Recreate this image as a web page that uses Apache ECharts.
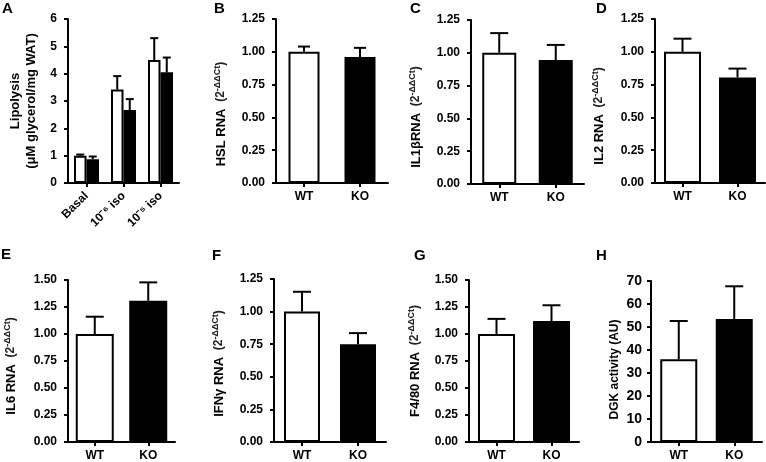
<!DOCTYPE html>
<html>
<head>
<meta charset="utf-8">
<script src="https://cdn.jsdelivr.net/npm/echarts@6/dist/echarts.min.js"></script>
<style>
html,body{margin:0;padding:0;background:#fff;}
#c{width:766px;height:462px;}
</style>
</head>
<body>
<div id="c"></div>
<script>
// ---- Data ----
const catsA = ['Basal', '10⁻⁶ iso', '10⁻⁵ iso'];
const wtA = [1.0, 3.42, 4.5];
const wtAerr = [0.04, 0.49, 0.8];
const koA = [0.87, 2.67, 4.05];
const koAerr = [0.1, 0.4, 0.54];

const catsWK = ['WT', 'KO'];
const hsl = [1.0, 0.96];      const hslErr = [0.04, 0.07];
const il1b = [1.0, 0.945];    const il1bErr = [0.15, 0.115];
const il2 = [1.0, 0.805];     const il2Err = [0.1, 0.067];
const il6 = [1.0, 1.308];     const il6Err = [0.16, 0.17];
const ifng = [1.0, 0.75];     const ifngErr = [0.152, 0.085];
const f480 = [1.0, 1.12];     const f480Err = [0.14, 0.146];
const dgk = [36, 53.5];       const dgkErr = [16.6, 14.2];

// ---- Layout / style ----
const FF = "'Liberation Sans', Arial, sans-serif";
const black = '#000';

const panels = [
  {id:'B', left:276, top:19, width:112, height:164, max:1.25, interval:0.25, dec:2, name:'{b|HSL RNA}  {p|(2}{s|-ΔΔCt}{p|)}', gap:47, pad:26, bw:31, cap:6, vals:hsl, errs:hslErr},
  {id:'C', left:471, top:20, width:113, height:164, max:1.25, interval:0.25, dec:2, name:'{b|IL1βRNA}  {p|(2}{s|-ΔΔCt}{p|)}', gap:47, pad:30, bw:34, cap:9, vals:il1b, errs:il1bErr},
  {id:'D', left:655, top:19, width:110, height:164, max:1.25, interval:0.25, dec:2, name:'{b|IL2 RNA}  {p|(2}{s|-ΔΔCt}{p|)}', gap:48, pad:30, bw:37, cap:9, vals:il2, errs:il2Err},
  {id:'E', left:68, top:280, width:107, height:162, max:1.5, interval:0.25, dec:2, name:'{b|IL6 RNA}  {p|(2}{s|-ΔΔCt}{p|)}', gap:49, pad:10, bw:38, cap:9, vals:il6, errs:il6Err},
  {id:'F', left:274, top:279, width:112, height:163, max:1.25, interval:0.25, dec:2, name:'{b|IFNγ RNA}  {p|(2}{s|-ΔΔCt}{p|)}', gap:47, pad:6, bw:36, cap:9, vals:ifng, errs:ifngErr},
  {id:'G', left:469, top:280, width:110, height:162, max:1.5, interval:0.25, dec:2, name:'{b|F4/80 RNA}  {p|(2}{s|-ΔΔCt}{p|)}', gap:46, pad:0, bw:37, cap:9, vals:f480, errs:f480Err},
  {id:'H', left:651, top:281, width:111, height:162, max:70, interval:10, dec:0, name:'{h|DGK activity (AU)}', gap:29, pad:16, bw:37, cap:9, vals:dgk, errs:dgkErr, big:true}
];

const richName = {
  b: {fontFamily: FF, fontWeight: 'bold', fontSize: 13, color: black, lineHeight: 16},
  p: {fontFamily: FF, fontWeight: 'bold', fontSize: 12, color: '#222', lineHeight: 16},
  s: {fontFamily: FF, fontWeight: 'bold', fontSize: 9, color: '#222', lineHeight: 10, verticalAlign: 'top'},
  h: {fontFamily: FF, fontWeight: 'bold', fontSize: 12, color: black, lineHeight: 15}
};

function axisCommon() {
  return {
    axisLine: {show: true, lineStyle: {color: black, width: 2}},
    axisTick: {show: true, length: 4, lineStyle: {color: black, width: 2}},
    splitLine: {show: false}
  };
}

function errRender(offset, capHalf) {
  return function (params, api) {
    const x = api.value(0), v = api.value(1), e = api.value(2);
    const p0 = api.coord([x, v]);
    const p1 = api.coord([x, v + e]);
    const cx = p0[0] + offset;
    return {
      type: 'group',
      children: [
        {type: 'line', shape: {x1: cx, y1: p0[1], x2: cx, y2: p1[1]}, style: {stroke: black, lineWidth: 2}},
        {type: 'line', shape: {x1: cx - capHalf, y1: p1[1], x2: cx + capHalf, y2: p1[1]}, style: {stroke: black, lineWidth: 2}}
      ]
    };
  };
}

const grid = [], xAxis = [], yAxis = [], series = [], title = [];

// Panel A
grid.push({left: 68, top: 19, width: 111, height: 164});
xAxis.push(Object.assign(axisCommon(), {
  type: 'category', gridIndex: 0, data: catsA,
  axisTick: {show: true, length: 4, alignWithLabel: true, lineStyle: {color: black, width: 2}},
  axisLabel: {rotate: 45, margin: 11, fontFamily: FF, fontWeight: 'bold', fontSize: 12, color: black}
}));
yAxis.push(Object.assign(axisCommon(), {
  type: 'value', gridIndex: 0, min: 0, max: 6, interval: 1,
  axisLabel: {margin: 11, fontFamily: FF, fontWeight: 'bold', fontSize: 12, color: black},
  name: '{b|Lipolysis}\n{b|(μM glycerol/mg WAT)}',
  nameLocation: 'middle', nameGap: 29, nameRotate: 90,
  nameTextStyle: {rich: richName, align: 'center', padding: [0, 0, 0, 0]}
}));
series.push({type: 'bar', xAxisIndex: 0, yAxisIndex: 0, data: wtA, barWidth: 12.5, barGap: '0%',
  itemStyle: {color: '#fff', borderColor: black, borderWidth: 2}, silent: true, animation: false});
series.push({type: 'bar', xAxisIndex: 0, yAxisIndex: 0, data: koA, barWidth: 12.5, barGap: '0%',
  itemStyle: {color: black, borderColor: black, borderWidth: 2}, silent: true, animation: false});
series.push({type: 'custom', xAxisIndex: 0, yAxisIndex: 0, renderItem: errRender(-6.25, 4),
  data: wtA.map((v, i) => [i, v, wtAerr[i]]), z: 1, animation: false, silent: true});
series.push({type: 'custom', xAxisIndex: 0, yAxisIndex: 0, renderItem: errRender(6.25, 4),
  data: koA.map((v, i) => [i, v, koAerr[i]]), z: 1, animation: false, silent: true});

panels.forEach((p, k) => {
  const gi = k + 1;
  grid.push({left: p.left, top: p.top, width: p.width, height: p.height});
  xAxis.push(Object.assign(axisCommon(), {
    type: 'category', gridIndex: gi, data: catsWK,
    axisTick: {show: true, length: 4, alignWithLabel: true, lineStyle: {color: black, width: 2}},
    axisLabel: {margin: 8, fontFamily: FF, fontWeight: 'bold', fontSize: 12, color: black}
  }));
  yAxis.push(Object.assign(axisCommon(), {
    type: 'value', gridIndex: gi, min: 0, max: p.max, interval: p.interval,
    axisLabel: {margin: p.big ? 9 : 11, fontFamily: FF, fontWeight: 'bold', fontSize: p.big ? 14 : 12, color: black,
      formatter: v => v.toFixed(p.dec)},
    name: p.name, nameLocation: 'middle', nameGap: p.gap, nameRotate: 90,
    nameTextStyle: {rich: richName, align: 'center', padding: [0, p.pad, 0, 0]}
  }));
  series.push({type: 'bar', xAxisIndex: gi, yAxisIndex: gi, barWidth: p.bw,
    data: p.vals.map((v, i) => ({value: v, itemStyle: {color: i === 0 ? '#fff' : black}})),
    itemStyle: {borderColor: black, borderWidth: 2}, silent: true, animation: false});
  series.push({type: 'custom', xAxisIndex: gi, yAxisIndex: gi, renderItem: errRender(0, p.cap),
    data: p.vals.map((v, i) => [i, v, p.errs[i]]), z: 1, animation: false, silent: true});
});

const labels = [
  ['A', 2, 1], ['B', 214, 1], ['C', 410, 1], ['D', 596, 1],
  ['E', 1, 247], ['F', 212, 248], ['G', 414, 248], ['H', 596, 248]
];
labels.forEach(l => title.push({text: l[0], left: l[1], top: l[2], padding: 0,
  textStyle: {fontFamily: FF, fontWeight: 'bold', fontSize: 15, color: black}}));

const chart = echarts.init(document.getElementById('c'), null, {renderer: 'canvas'});
chart.setOption({animation: false, backgroundColor: '#fff', title, grid, xAxis, yAxis, series});
</script>
</body>
</html>
